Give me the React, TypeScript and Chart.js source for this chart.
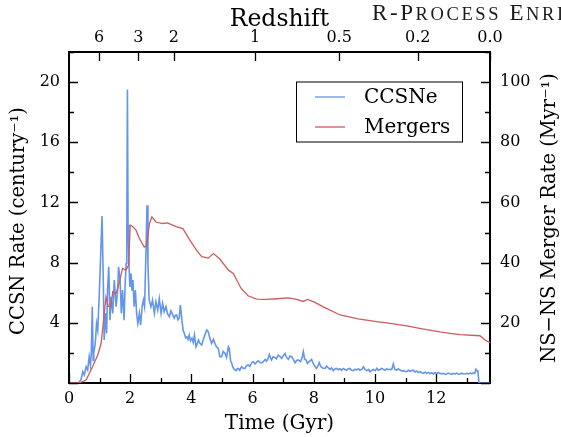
import React, { useEffect, useRef } from "react";
import { Chart, registerables } from "chart.js";

Chart.register(...registerables);

// ---- Data ----
const ccsnTime = [
  0.0, 0.3, 0.39, 0.45, 0.5, 0.56, 0.61, 0.66, 0.7, 0.73, 0.76, 0.79, 0.81, 0.86, 0.9, 0.94, 0.99, 1.03, 1.08, 1.12,
  1.15, 1.19, 1.23, 1.26, 1.3, 1.34, 1.37, 1.43, 1.48, 1.54, 1.59, 1.62, 1.67, 1.71, 1.75, 1.8, 1.84, 1.87, 1.89, 1.91,
  1.93, 1.96, 1.99, 2.03, 2.06, 2.09, 2.13, 2.17, 2.21, 2.25, 2.3, 2.34, 2.39, 2.43, 2.47, 2.52, 2.55, 2.58, 2.62, 2.68,
  2.73, 2.79, 2.84, 2.9, 2.95, 3.01, 3.06, 3.11, 3.17, 3.22, 3.28, 3.33, 3.37, 3.44, 3.48, 3.52, 3.56, 3.6, 3.64, 3.69,
  3.73, 3.77, 3.81, 3.85, 3.89, 3.93, 3.97, 4.02, 4.06, 4.1, 4.15, 4.19, 4.23, 4.28, 4.34, 4.39, 4.44, 4.5, 4.55, 4.6,
  4.66, 4.72, 4.77, 4.82, 4.88, 4.93, 4.99, 5.04, 5.1, 5.15, 5.21, 5.24, 5.28, 5.32, 5.35, 5.4, 5.46, 5.5, 5.53, 5.58,
  5.64, 5.7, 5.75, 5.8, 5.86, 5.91, 5.97, 6.02, 6.08, 6.14, 6.19, 6.25, 6.3, 6.35, 6.41, 6.46, 6.5, 6.55, 6.59, 6.62,
  6.67, 6.73, 6.78, 6.84, 6.9, 6.95, 7.0, 7.06, 7.11, 7.17, 7.22, 7.28, 7.33, 7.39, 7.44, 7.49, 7.57, 7.62, 7.66, 7.7,
  7.75, 7.79, 7.85, 7.93, 7.98, 8.04, 8.09, 8.14, 8.18, 8.23, 8.29, 8.37, 8.42, 8.48, 8.53, 8.58, 8.64, 8.7, 8.75, 8.8,
  8.86, 8.91, 8.96, 9.02, 9.07, 9.13, 9.18, 9.24, 9.29, 9.35, 9.4, 9.46, 9.51, 9.57, 9.62, 9.68, 9.73, 9.79, 9.84, 9.9,
  9.95, 10.01, 10.06, 10.11, 10.17, 10.22, 10.27, 10.33, 10.38, 10.44, 10.49, 10.55, 10.6, 10.65, 10.71, 10.76, 10.82, 10.87, 10.93, 10.98,
  11.04, 11.09, 11.15, 11.2, 11.25, 11.31, 11.36, 11.42, 11.47, 11.53, 11.58, 11.64, 11.69, 11.75, 11.8, 11.86, 11.91, 11.97, 12.02, 12.07,
  12.12, 12.18, 12.23, 12.29, 12.34, 12.4, 12.45, 12.51, 12.56, 12.62, 12.67, 12.73, 12.78, 12.84, 12.89, 12.95, 13.0, 13.05, 13.11, 13.16,
  13.21, 13.26, 13.3, 13.34, 13.36, 13.4, 13.76,
];
const ccsnRate = [
  0, 0, 0.2, 0.75, 0.53, 1.08, 0.86, 1.75, 1.2, 2.0, 5.07, 1.5, 2.0, 2.64, 3.96, 3.5, 5.95, 8.17, 11.09, 6.84,
  2.86, 4.63, 3.3, 6.18, 7.72, 4.18, 5.73, 4.63, 6.84, 5.07, 6.18, 7.72, 6.84, 4.63, 6.18, 4.18, 6.84, 7.95, 10.16, 19.5,
  10.5, 7.95, 6.39, 7.28, 6.18, 6.84, 5.07, 6.18, 4.63, 3.96, 4.63, 3.85, 5.07, 5.51, 5.07, 9.05, 11.82, 7.95, 5.51, 5.07,
  5.51, 4.63, 5.4, 4.85, 5.62, 4.63, 5.29, 4.74, 5.07, 4.6, 4.4, 4.8, 4.63, 4.3, 4.5, 4.52, 4.2, 4.3, 5.18, 4.18,
  3.5, 3.3, 3.0, 3.07, 2.9, 3.19, 2.8, 2.97, 2.7, 3.19, 2.41, 2.6, 2.86, 2.64, 2.52, 2.9, 3.19, 3.52, 3.41, 3.0,
  2.64, 2.9, 2.64, 2.4, 2.3, 1.75, 1.75, 2.1, 1.97, 1.7, 2.41, 2.3, 1.5, 1.3, 1.08, 0.9, 0.82, 0.95, 0.97, 0.85,
  1.08, 0.97, 0.97, 1.15, 1.2, 1.1, 1.35, 1.42, 1.26, 1.4, 1.48, 1.35, 1.35, 1.42, 1.57, 1.45, 1.6, 1.9, 1.65, 1.53,
  1.75, 1.7, 1.6, 1.86, 1.75, 1.64, 1.8, 1.97, 1.7, 1.57, 1.8, 1.75, 1.55, 1.35, 1.5, 1.53, 1.42, 1.7, 2.08, 1.6,
  1.53, 1.3, 1.42, 1.57, 1.3, 1.1, 0.97, 1.15, 1.35, 1.1, 1.0, 0.97, 1.13, 1.0, 0.91, 1.0, 0.82, 0.95, 0.97, 0.88,
  0.95, 0.85, 0.97, 0.9, 0.85, 0.95, 0.97, 0.85, 0.82, 0.92, 0.86, 0.95, 0.85, 0.9, 1.08, 0.88, 0.82, 0.9, 0.75, 0.85,
  0.9, 0.82, 0.97, 0.85, 0.9, 0.97, 0.91, 0.85, 0.95, 0.88, 0.91, 0.9, 1.26, 0.9, 0.85, 0.95, 0.86, 0.8, 0.82, 0.78,
  0.75, 0.85, 0.78, 0.82, 0.86, 0.72, 0.8, 0.7, 0.75, 0.68, 0.64, 0.72, 0.64, 0.7, 0.62, 0.68, 0.6, 0.68, 0.62, 0.7,
  0.64, 0.6, 0.64, 0.58, 0.6, 0.66, 0.62, 0.58, 0.64, 0.6, 0.66, 0.58, 0.6, 0.65, 0.6, 0.62, 0.64, 0.6, 0.66, 0.62,
  0.68, 0.64, 0.91, 0.8, 0.86, 0.0, 0.0,
];

const mergerTime = [
  0.0, 0.33, 0.56, 0.77, 0.94, 1.05, 1.12, 1.21, 1.28, 1.37, 1.43, 1.54, 1.64, 1.75, 1.86, 1.95, 2.0, 2.08, 2.19, 2.3,
  2.46, 2.54, 2.63, 2.71, 2.84, 3.06, 3.22, 3.5, 3.72, 3.82, 3.95, 4.17, 4.34, 4.55, 4.72, 4.93, 5.21, 5.37, 5.62, 5.85,
  6.13, 6.46, 6.79, 7.17, 7.44, 7.66, 7.8, 8.04, 8.31, 8.86, 9.45, 10.0, 10.5, 11.04, 11.5, 12.12, 12.45, 12.78, 13.43, 13.6,
  13.76,
];
const mergerRate = [
  0, 0, 1.0, 5.4, 9.3, 13.2, 19.9, 28.6, 25.5, 25.3, 30.3, 29.8, 33.2, 38.1, 37.5, 39.2, 52.5, 52, 50.8, 48,
  45.2, 45.8, 53, 55.2, 53.5, 53, 53.2, 52, 51.3, 49.7, 47.5, 44.1, 42, 41.5, 43, 41.2, 37.5, 36.4, 31.5, 29,
  27.9, 27.8, 28, 28.3, 27.8, 27.1, 27.8, 26.8, 25.3, 22.6, 21.3, 20.5, 19.8, 19, 18.1, 17, 16.5, 16.1, 15.7, 14.3,
  13.4,
];

const redshiftLabels = ["6", "3", "2", "1", "0.5", "0.2", "0.0"];
const redshiftTimes = [0.98, 2.27, 3.43, 6.08, 8.83, 11.4, 13.76];

const seriesLabels = ["CCSNe", "Mergers"];
const seriesColors = ["#6495ED", "#CD5C5C"];

const xMax = 13.76;
const yLeftMax = 22;
const yRightMax = 110;

const TICK_FONT = { family: "'DejaVu Serif'", size: 16 };
const SERIF = "'DejaVu Serif'";

const overlayPlugin = {
  id: "overlay",
  afterDraw(chart: any) {
    const ctx = chart.ctx as CanvasRenderingContext2D;
    const { left, right, top, bottom } = chart.chartArea;
    const sx = chart.scales.x;
    const sxt = chart.scales.xTop;
    const sy = chart.scales.y;
    const sy2 = chart.scales.y2;
    ctx.save();
    ctx.strokeStyle = "#000";
    ctx.lineWidth = 1.3;
    ctx.beginPath();
    sx.ticks.forEach((t: any) => {
      const px = Math.round(sx.getPixelForValue(t.value)) + 0.5;
      const len = t.value % 2 === 0 ? 9 : 5;
      ctx.moveTo(px, bottom);
      ctx.lineTo(px, bottom - len);
    });
    sxt.ticks.forEach((t: any) => {
      const px = Math.round(sxt.getPixelForValue(t.value)) + 0.5;
      ctx.moveTo(px, top);
      ctx.lineTo(px, top + 9);
    });
    sy.ticks.forEach((t: any) => {
      const py = Math.round(sy.getPixelForValue(t.value)) + 0.5;
      const len = t.value % 4 === 0 ? 9 : 5;
      ctx.moveTo(left, py);
      ctx.lineTo(left + len, py);
    });
    sy2.ticks.forEach((t: any) => {
      const py = Math.round(sy2.getPixelForValue(t.value)) + 0.5;
      const len = t.value % 20 === 0 ? 9 : 5;
      ctx.moveTo(right, py);
      ctx.lineTo(right - len, py);
    });
    ctx.stroke();

    // side titles (both read bottom-to-top)
    ctx.fillStyle = "#000";
    ctx.font = `19.5px ${SERIF}`;
    ctx.textAlign = "center";
    ctx.textBaseline = "middle";
    ctx.save();
    ctx.translate(19, 221);
    ctx.rotate(-Math.PI / 2);
    ctx.fillText("CCSN Rate (century\u207B\u00B9)", 0, 0);
    ctx.restore();
    ctx.save();
    ctx.translate(550, 218);
    ctx.rotate(-Math.PI / 2);
    ctx.fillText("NS\u2212NS Merger Rate (Myr\u207B\u00B9)", 0, 0);
    ctx.restore();

    // legend
    const bx = 296, by = 81.5, bw = 166, bh = 60;
    ctx.fillStyle = "#fff";
    ctx.fillRect(bx, by, bw, bh);
    ctx.strokeStyle = "#000";
    ctx.lineWidth = 1;
    ctx.strokeRect(bx + 0.5, by + 0.5, bw, bh);
    ctx.font = `20px ${SERIF}`;
    ctx.textAlign = "left";
    chart.data.datasets.forEach((ds: any) => {
      const idx = seriesLabels.indexOf(ds.label);
      const ly = by + 15.5 + idx * 30;
      ctx.strokeStyle = ds.borderColor;
      ctx.lineWidth = 1.3;
      ctx.beginPath();
      ctx.moveTo(315, ly);
      ctx.lineTo(345, ly);
      ctx.stroke();
      ctx.fillStyle = "#000";
      ctx.fillText(ds.label, 364, ly + 1);
    });

    // running header (small caps, clipped at page edge)
    const parts: [string, number][] = [
      ["R-P", 23], ["ROCESS", 18.5], [" ", 23], ["E", 23], ["NRICHMENT", 18.5],
    ];
    let hx = 372;
    ctx.textBaseline = "alphabetic";
    ctx.fillStyle = "#1a1a1a";
    parts.forEach(([s, size]) => {
      ctx.font = `${size}px 'Liberation Serif'`;
      for (const ch of s) {
        ctx.fillText(ch, hx, 19.5);
        hx += ctx.measureText(ch).width + 2.6;
      }
    });
    ctx.restore();
  },
};

export default function App() {
  const ref = useRef<HTMLCanvasElement | null>(null);
  useEffect(() => {
    if (!ref.current) return;
    const blue = ccsnTime.map((t, i) => ({ x: t, y: ccsnRate[i] }));
    const red = mergerTime.map((t, i) => ({ x: t, y: mergerRate[i] }));
    const chart = new Chart(ref.current, {
      type: "line",
      data: {
        datasets: [
          {
            label: seriesLabels[1],
            data: red,
            borderColor: seriesColors[1],
            borderWidth: 1.3,
            pointRadius: 0,
            xAxisID: "x",
            yAxisID: "y2",
            order: 0,
          },
          {
            label: seriesLabels[0],
            data: blue,
            borderColor: seriesColors[0],
            borderWidth: 1.6,
            pointRadius: 0,
            xAxisID: "x",
            yAxisID: "y",
            order: 1,
          },
        ],
      },
      options: {
        animation: false,
        responsive: false,
        devicePixelRatio: 1,
        layout: { padding: 0 },
        plugins: { legend: { display: false }, tooltip: { enabled: false } },
        scales: {
          x: {
            type: "linear",
            position: "bottom",
            min: 0,
            max: xMax,
            grid: { display: false, drawTicks: false },
            border: { display: true, width: 2, color: "#000" },
            ticks: {
              stepSize: 1,
              includeBounds: false,
              autoSkip: false,
              maxRotation: 0,
              padding: 6,
              color: "#000",
              font: TICK_FONT,
              callback: (v: any) => (Number(v) % 2 === 0 ? String(v) : ""),
            },
            title: {
              display: true,
              text: "Time (Gyr)",
              color: "#000",
              font: { family: SERIF, size: 20 },
              padding: { top: 0, bottom: 1 },
            },
            afterFit: (s: any) => {
              s.height = 54;
            },
          },
          xTop: {
            type: "linear",
            position: "top",
            min: 0,
            max: xMax,
            grid: { display: false, drawTicks: false },
            border: { display: true, width: 2, color: "#000" },
            afterBuildTicks: (s: any) => {
              s.ticks = redshiftTimes.map((v) => ({ value: v }));
            },
            ticks: {
              autoSkip: false,
              maxRotation: 0,
              padding: 5,
              color: "#000",
              font: TICK_FONT,
              callback: (_v: any, i: number) => redshiftLabels[i],
            },
            title: {
              display: true,
              text: "Redshift",
              color: "#000",
              font: { family: SERIF, size: 23.5 },
              padding: { top: 6, bottom: 0 },
            },
            afterFit: (s: any) => {
              s.height = 52;
            },
          },
          y: {
            type: "linear",
            position: "left",
            min: 0,
            max: yLeftMax,
            grid: { display: false, drawTicks: false },
            border: { display: true, width: 2, color: "#000" },
            ticks: {
              stepSize: 2,
              autoSkip: false,
              padding: 9,
              color: "#000",
              font: TICK_FONT,
              callback: (v: any) => (Number(v) % 4 === 0 && Number(v) > 0 ? String(v) : ""),
            },
            afterFit: (s: any) => {
              s.width = 69;
            },
          },
          y2: {
            type: "linear",
            position: "right",
            min: 0,
            max: yRightMax,
            grid: { display: false, drawTicks: false },
            border: { display: true, width: 2, color: "#000" },
            ticks: {
              stepSize: 10,
              autoSkip: false,
              padding: 10,
              color: "#000",
              font: TICK_FONT,
              callback: (v: any) => (Number(v) % 20 === 0 && Number(v) > 0 ? String(v) : ""),
            },
            afterFit: (s: any) => {
              s.width = 71;
            },
          },
        },
      } as any,
      plugins: [overlayPlugin],
    });
    return () => chart.destroy();
  }, []);

  return (
    <div
      style={{
        position: "absolute",
        left: 0,
        top: 0,
        width: 561,
        height: 437,
        overflow: "hidden",
        background: "#fff",
      }}
    >
      <canvas ref={ref} width={561} height={437} style={{ display: "block" }} />
    </div>
  );
}
